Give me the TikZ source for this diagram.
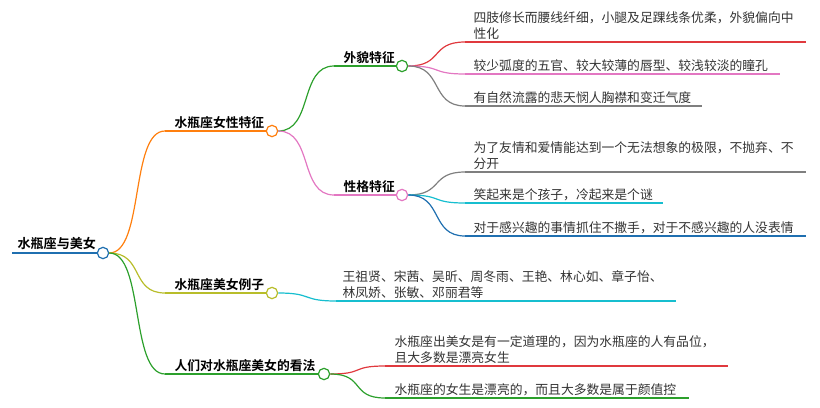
\documentclass[tikz,border=0pt]{standalone}
\usepackage{fontspec}
\setmainfont{Noto Sans CJK SC}
\newfontfamily\cjkb{Noto Sans CJK SC Bold}
\definecolor{cblue}{HTML}{1F6FB0}
\definecolor{corange}{HTML}{FF7F0E}
\definecolor{colive}{HTML}{B8BD2A}
\definecolor{cgreen}{HTML}{2CA02C}
\definecolor{cpink}{HTML}{E377C2}
\definecolor{cred}{HTML}{E0393E}
\definecolor{cgray}{HTML}{7F7F7F}
\definecolor{ccyan}{HTML}{17BECF}
\definecolor{txt}{HTML}{333333}
\tikzset{
  dot/.style={circle,draw,fill=white,line width=0.9pt,inner sep=0pt,minimum size=8.5pt},
  lab/.style={anchor=south west,inner sep=1pt,font=\cjkb\fontsize{9.6}{11}\selectfont,text=black},
  leaf/.style={anchor=south west,inner sep=1pt,align=left,font=\fontsize{9.6}{12.2}\selectfont,text=txt},
  br/.style={line width=0.9pt}
}
\newcommand{\curve}[3]{\draw[br,#1] (#2) .. controls ($(#2)+(35,0)$) and ($(#3)+(-35,0)$) .. (#3);}
\usetikzlibrary{calc}
\begin{document}
\begin{tikzpicture}[x=0.75pt,y=-0.75pt]
\useasboundingbox (0,0) rectangle (820,407);
% root
\draw[cblue,line width=2.2pt] (12,253) -- (99,253);
\node[lab,font=\cjkb\fontsize{9.8}{11}\selectfont] (r) at (16,251) {水瓶座与美女};
\node[dot,draw=cblue] (rc) at (103,253) {};
% level 1
\coordinate (a0) at (165,131); \coordinate (b0) at (165,293); \coordinate (c0) at (165,374);
\curve{corange}{rc.east}{a0}
\curve{colive}{rc.east}{b0}
\curve{cgreen}{rc.east}{c0}
\draw[br,corange] (a0) -- (268,131);
\draw[br,colive] (b0) -- (268,293);
\draw[br,cgreen] (c0) -- (320,374);
\node[lab] (a) at (173,130) {水瓶座女性特征};
\node[lab] (b) at (173,292) {水瓶座美女例子};
\node[lab] (c) at (173,373) {人们对水瓶座美女的看法};
\node[dot,draw=corange] (ac) at (272,131) {};
\node[dot,draw=colive] (bc) at (272,293) {};
\node[dot,draw=cgreen] (cc) at (324,374) {};
% level 2
\coordinate (d0) at (334,66); \coordinate (e0) at (334,195);
\curve{cgreen}{ac.east}{d0}
\curve{cpink}{ac.east}{e0}
\draw[br,cgreen] (d0) -- (398,66);
\draw[br,cpink] (e0) -- (398,195);
\node[lab] (d) at (342,65) {外貌特征};
\node[lab] (e) at (342,194) {性格特征};
\node[dot,draw=cgreen] (dc) at (402,66) {};
\node[dot,draw=cpink] (ec) at (402,195) {};
% leaves of 外貌
\coordinate (l1) at (465,42); \coordinate (l2) at (465,74); \coordinate (l3) at (465,106);
\curve{cred}{dc.east}{l1} \draw[br,cred] (l1) -- (806,42);
\curve{cpink}{dc.east}{l2} \draw[br,cpink] (l2) -- (780,74);
\curve{cgray}{dc.east}{l3} \draw[br,cgray] (l3) -- (702,106);
\node[leaf] (t1) at (472,41) {四肢修长而腰线纤细，小腿及足踝线条优柔，外貌偏向中\\性化};
\node[leaf] (t2) at (472,73) {较少弧度的五官、较大较薄的唇型、较浅较淡的瞳孔};
\node[leaf] (t3) at (472,105) {有自然流露的悲天悯人胸襟和变迁气度};
% leaves of 性格
\coordinate (m1) at (465,172); \coordinate (m2) at (465,203); \coordinate (m3) at (465,236);
\curve{cgray}{ec.east}{m1} \draw[br,cgray] (m1) -- (806,172);
\curve{ccyan}{ec.east}{m2} \draw[br,ccyan] (m2) -- (663,203);
\curve{cblue}{ec.east}{m3} \draw[br,cblue] (m3) -- (806,236);
\node[leaf] (u1) at (472,171) {为了友情和爱情能达到一个无法想象的极限，不抛弃、不\\分开};
\node[leaf] (u2) at (472,202) {笑起来是个孩子，冷起来是个谜};
\node[leaf] (u3) at (472,235) {对于感兴趣的事情抓住不撒手，对于不感兴趣的人没表情};
% examples
\coordinate (n1) at (336,301);
\curve{ccyan}{bc.east}{n1} \draw[br,ccyan] (n1) -- (676,301);
\node[leaf] (v1) at (341,300) {王祖贤、宋茜、吴昕、周冬雨、王艳、林心如、章子怡、\\林凤娇、张敏、邓丽君等};
% opinions
\coordinate (o1) at (385,366); \coordinate (o2) at (385,398);
\curve{cred}{cc.east}{o1} \draw[br,cred] (o1) -- (728,366);
\curve{cgreen}{cc.east}{o2} \draw[br,cgreen] (o2) -- (689,398);
\node[leaf] (w1) at (393,365) {水瓶座出美女是有一定道理的，因为水瓶座的人有品位，\\且大多数是漂亮女生};
\node[leaf] (w2) at (393,397) {水瓶座的女生是漂亮的，而且大多数是属于颜值控};
\end{tikzpicture}
\end{document}
